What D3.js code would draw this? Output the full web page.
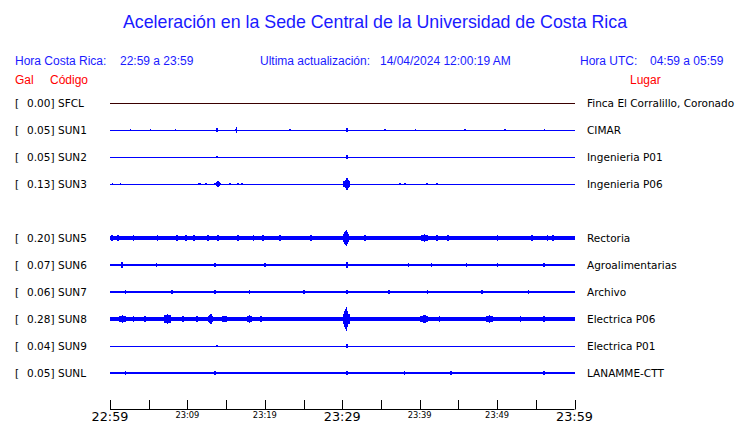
<!DOCTYPE html>
<html><head><meta charset="utf-8">
<script src="https://cdn.jsdelivr.net/npm/d3@7"></script>
<style>body{margin:0;background:#fff}svg{display:block}</style>
</head><body>
<script>
const titleText = "Aceleración en la Sede Central de la Universidad de Costa Rica";
const codes   = ["SFCL","SUN1","SUN2","SUN3","","SUN5","SUN6","SUN7","SUN8","SUN9","SUNL"];
const peaks   = [0.00, 0.05, 0.05, 0.13, null, 0.20, 0.07, 0.06, 0.28, 0.04, 0.05];
const places  = ["Finca El Corralillo, Coronado","CIMAR","Ingenieria P01","Ingenieria P06","","Rectoria","Agroalimentarias","Archivo","Electrica P06","Electrica P01","LANAMME-CTT"];
const noise   = [0, 0, 0, 0, 0, 0.042, 0.018, 0.02, 0.04, 0, 0.018];
// events: [minute after 22:59, amplitude (gal), duration (min)]
const evSFCL = [];
const evSUN1 = [[2.6,0.012,0],[5.2,0.012,0],[8.4,0.012,0],[13.8,0.05,0.2],[16.3,0.06,0.2],[23.2,0.012,0],[30.6,0.045,0.2],[35.5,0.02,0],[39.4,0.012,0],[45.8,0.02,0],[51.0,0.012,0],[56.1,0.02,0]];
const evSUN2 = [[13.8,0.025,0],[30.6,0.035,0.1]];
const evSUN3 = [[0.3,0.015,0.4],[1.3,0.015,0],[11.4,0.015,0],[11.6,0.015,0],[12.4,0.015,0],[13.9,0.06,0.9],[15.5,0.012,0],[16.5,0.025,0.2],[17.0,0.025,0.2],[23.4,0.008,0],[30.6,0.13,0.9],[37.4,0.015,0],[38.1,0.015,0],[40.9,0.02,0.3],[42.2,0.015,0],[46.5,0.01,0],[51.0,0.01,0]];
const evSUN5 = [[0.2,0.07,0.3],[1.0,0.06,0],[3.0,0.06,0],[6.1,0.06,0],[6.8,0.05,0],[8.6,0.08,0.4],[9.8,0.06,0],[10.8,0.06,0],[12.6,0.08,0.5],[13.9,0.075,0.5],[16.5,0.08,0.4],[18.5,0.06,0],[19.7,0.07,0.3],[21.9,0.07,0.3],[25.9,0.06,0],[27.7,0.05,0],[30.5,0.19,0.8],[32.9,0.06,0.2],[40.6,0.085,1.4],[42.2,0.06,0],[43.6,0.06,0],[50.0,0.075,0.5],[54.5,0.06,0],[56.5,0.07,0.3],[57.2,0.06,0]];
const evSUN6 = [[1.5,0.07,0.4],[3.5,0.03,0],[6.0,0.035,0],[9.0,0.03,0],[13.5,0.045,0.4],[17.0,0.03,0],[20.0,0.035,0],[25.0,0.03,0],[30.6,0.06,0.4],[35.0,0.03,0],[38.5,0.045,0.4],[41.5,0.035,0],[46.0,0.04,0.3],[50.0,0.035,0],[53.0,0.03,0],[56.0,0.05,0.3]];
const evSUN7 = [[2.0,0.035,0.3],[5.0,0.03,0],[8.0,0.035,0.3],[11.0,0.03,0],[13.5,0.04,0.4],[18.0,0.035,0.3],[22.0,0.03,0],[25.0,0.035,0.3],[30.6,0.05,0.4],[33.0,0.03,0],[36.0,0.035,0.3],[41.0,0.04,0.4],[45.0,0.03,0],[48.0,0.035,0.3],[51.0,0.03,0],[54.0,0.035,0.3],[57.0,0.03,0]];
const evSUN8 = [[1.6,0.09,1.4],[3.0,0.06,0],[4.5,0.06,0],[7.4,0.12,1.4],[9.4,0.06,0],[11.2,0.06,0],[13.0,0.11,1.2],[14.8,0.08,2.2],[18.0,0.095,1.1],[19.5,0.06,0],[21.5,0.05,0],[23.4,0.05,0],[27.3,0.05,0],[30.5,0.28,0.9],[40.6,0.1,1.8],[42.5,0.06,0.6],[49.0,0.09,1.5],[53.0,0.065,0.8],[56.0,0.06,1.4]];
const evSUN9 = [[13.8,0.025,0],[30.6,0.035,0.1]];
const evSUNL = [[2.0,0.035,0.3],[6.0,0.03,0],[9.5,0.03,0],[13.5,0.035,0.4],[17.0,0.03,0],[20.0,0.03,0],[25.0,0.03,0],[30.6,0.045,0.4],[35.0,0.03,0],[38.0,0.035,0.3],[44.0,0.035,0.5],[47.0,0.03,0],[50.0,0.03,0],[53.0,0.03,0],[56.0,0.035,0]];
const events = [evSFCL, evSUN1, evSUN2, evSUN3, [], evSUN5, evSUN6, evSUN7, evSUN8, evSUN9, evSUNL];
const tickMinutes = [0,5,10,15,20,25,30,35,40,45,50,55,60];
const bigLabels = {0:"22:59",30:"23:29",60:"23:59"};
const smallLabels = {10:"23:09",20:"23:19",40:"23:39",50:"23:49"};

const W = 740, H = 423;
const svg = d3.select("body").append("svg").attr("width", W).attr("height", H);
const x = d3.scaleLinear().domain([0,60]).range([110,574.5]);
const row = d3.scalePoint().domain(d3.range(codes.length)).range([103,373]);
const amp = d3.scaleLinear().domain([0,0.3]).range([0,13]);
const blue = "#0000ff", txtBlue = "#1a1aff", red = "#ff0000";

svg.append("text").attr("x",375).attr("y",28).attr("text-anchor","middle")
  .attr("font-family","Liberation Sans, Arial, sans-serif").attr("font-size",17.8).attr("fill",txtBlue).text(titleText);

const hdr = [[15,"Hora Costa Rica:"],[120,"22:59 a 23:59"],[260,"Ultima actualización:"],[380,"14/04/2024 12:00:19 AM"],[580,"Hora UTC:"],[650,"04:59 a 05:59"]];
svg.selectAll("text.hdr").data(hdr).join("text").attr("class","hdr")
  .attr("x",d=>d[0]).attr("y",65).attr("font-family","Liberation Sans, Arial, sans-serif").attr("font-size",12).attr("fill",txtBlue).text(d=>d[1]);
const hdr2 = [[15,"Gal"],[50,"Código"],[630,"Lugar"]];
svg.selectAll("text.hdr2").data(hdr2).join("text").attr("class","hdr2")
  .attr("x",d=>d[0]).attr("y",84).attr("font-family","Liberation Sans, Arial, sans-serif").attr("font-size",12).attr("fill",red).text(d=>d[1]);

const idx = d3.range(codes.length).filter(i => codes[i] !== "");
const lf = "DejaVu Sans, sans-serif";
const g = svg.append("g").attr("shape-rendering","crispEdges");
// stepped burst envelope: [fraction of duration, fraction of amplitude]
const steps = [[1.0,0.45],[0.6,0.7],[0.25,0.85]];
idx.forEach(i => {
  const y0 = row(i);
  g.append("text").attr("x",15).attr("y",y0+4).attr("font-family",lf).attr("font-size",10.5).text("[");
  g.append("text").attr("x",54.5).attr("y",y0+4).attr("text-anchor","end").attr("font-family",lf).attr("font-size",10.5).text(peaks[i].toFixed(2)+"]");
  g.append("text").attr("x",58).attr("y",y0+4).attr("font-family",lf).attr("font-size",10.5).text(codes[i]);
  g.append("text").attr("x",587).attr("y",y0+4).attr("font-family",lf).attr("font-size",10.5).text(places[i]);
  const col = i === 0 ? "#3a0000" : blue;
  const th = Math.max(1, 2*amp(noise[i]));
  g.append("rect").attr("x",x(0)).attr("width",x(60)-x(0)).attr("y",y0-th/2).attr("height",th).attr("fill",col);
  events[i].forEach(e => {
    const [t,a,d] = e;
    if (d > 0) {
      steps.forEach(s => {
        const w = x(d*s[0]) - x(0);
        const h = Math.max(th, 2*amp(a)*s[1]);
        g.append("rect").attr("x",x(t)-w/2).attr("width",Math.max(1,w)).attr("y",y0-h/2).attr("height",h).attr("fill",col);
      });
    }
    const h2 = 2*amp(a);
    g.append("rect").attr("x",x(t)-0.5).attr("width",1.5).attr("y",y0-h2/2).attr("height",h2).attr("fill",col);
  });
});

// axis
const ax = svg.append("g");
ax.append("line").attr("x1",x(0)).attr("x2",x(60)).attr("y1",409.5).attr("y2",409.5).attr("stroke","#000");
ax.selectAll("line.tk").data(tickMinutes).join("line").attr("class","tk")
  .attr("x1",d=>Math.round(x(d))+0.5).attr("x2",d=>Math.round(x(d))+0.5).attr("y1",400).attr("y2",409.5).attr("stroke","#000");
ax.selectAll("text.big").data(Object.keys(bigLabels).map(Number)).join("text").attr("class","big")
  .attr("x",d=>x(d)).attr("y",420.5).attr("text-anchor","middle").attr("font-family",lf).attr("font-size",12.8).text(d=>bigLabels[d]);
ax.selectAll("text.sm").data(Object.keys(smallLabels).map(Number)).join("text").attr("class","sm")
  .attr("x",d=>x(d)).attr("y",418).attr("text-anchor","middle").attr("font-family",lf).attr("font-size",8.3).text(d=>smallLabels[d]);
</script>
</body></html>
